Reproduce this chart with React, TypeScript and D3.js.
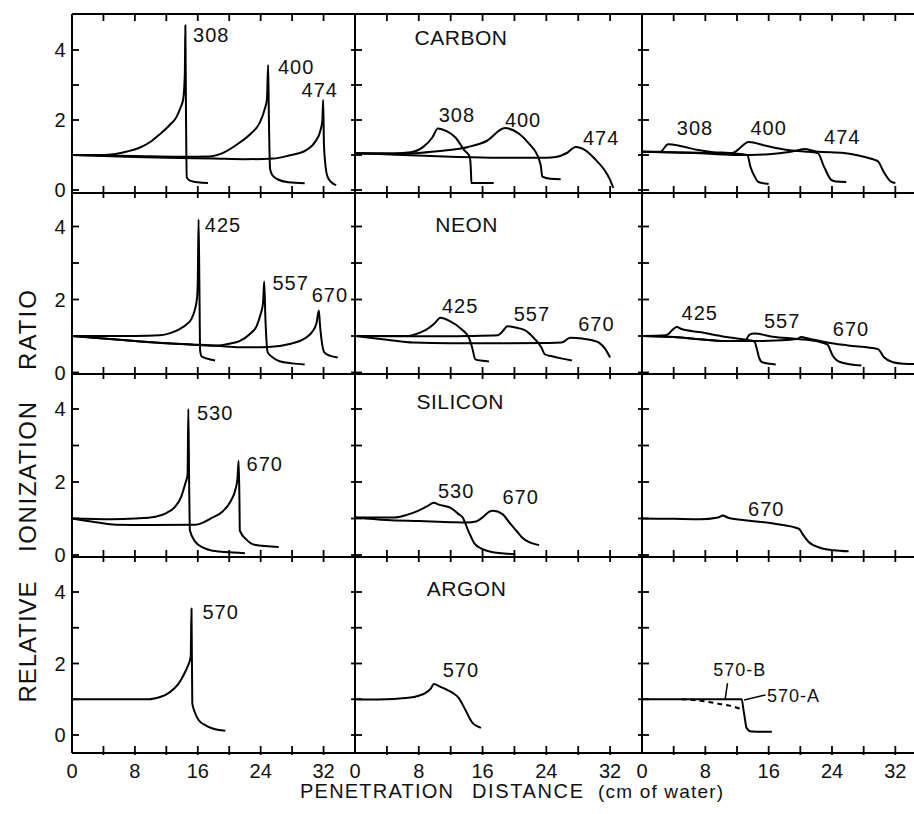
import React from "react";
import * as d3 from "d3";

// ---------- data (x = penetration cm of water, y = relative ionization) ----------
const xTickValues = [0, 4, 8, 12, 16, 20, 24, 28, 32];
const xTickLabels = [0, 8, 16, 24, 32];
const yTickValues = [0, 1, 2, 3, 4];
const yTickLabels = [0, 2, 4];
const elementNames = ["CARBON", "NEON", "SILICON", "ARGON"];

// Carbon – left (unmodulated)
const carbonL308 = [[0,1],[4,1.0],[5.5,1.03],[7,1.1],[8.5,1.2],[10,1.38],[11.2,1.6],[12.4,1.85],[13.3,2.09],[13.8,2.35],[14.15,2.6],[14.35,3.3],[14.42,4.71],[14.5,2.2],[14.6,0.36],[15,0.27],[16,0.22],[17.3,0.2]];
const carbonL400 = [[0,1],[8,0.97],[14,0.95],[17.5,0.96],[19,1.04],[21.3,1.35],[22.7,1.6],[23.9,1.93],[24.5,2.3],[24.8,2.6],[24.95,3.57],[25.05,2.0],[25.2,0.6],[25.5,0.42],[26.2,0.3],[27.5,0.22],[29.6,0.19]];
const carbonL474 = [[0,1],[6,0.96],[12,0.92],[18,0.9],[22,0.88],[25.6,0.9],[27.5,0.98],[29.8,1.14],[31,1.4],[31.6,1.7],[31.85,2.0],[31.95,2.57],[32.05,1.3],[32.2,0.8],[32.5,0.38],[33,0.22],[33.6,0.14]];
// Carbon – middle
const carbonM308 = [[0,1.05],[5,1.05],[7,1.08],[8.6,1.24],[9.7,1.5],[10.4,1.76],[11.5,1.68],[12.6,1.5],[13.7,1.14],[14.4,0.94],[14.55,0.5],[14.6,0.2],[15.5,0.2],[17.4,0.2]];
const carbonM400 = [[0,1.05],[5,1.03],[8,1.06],[11,1.12],[14.2,1.23],[16.5,1.4],[18.8,1.77],[20.5,1.62],[21.8,1.33],[23.1,0.86],[23.3,0.7],[23.5,0.38],[24.5,0.32],[25.8,0.31]];
const carbonM474 = [[0,1.05],[6,1.0],[12,0.95],[18,0.92],[24,0.92],[25.2,0.94],[26.5,1.05],[27.7,1.23],[29,1.12],[30.2,0.86],[31.2,0.6],[32.0,0.29],[32.4,0.06]];
// Carbon – right
const carbonR308 = [[0,1.09],[2.3,1.09],[3.3,1.31],[5,1.25],[7.1,1.14],[9,1.08],[11,1.06],[13.3,1.0],[13.7,0.66],[14.2,0.4],[14.7,0.23],[16.0,0.17]];
const carbonR400 = [[0,1.09],[6,1.07],[9,1.05],[11.4,1.06],[13.5,1.37],[15.5,1.27],[18.4,1.14],[20.5,1.1],[22.2,1.06],[23.0,0.66],[23.9,0.29],[24.5,0.24],[25.8,0.23]];
const carbonR474 = [[0,1.09],[8,1.04],[12,1.0],[16,1.02],[18.8,1.09],[20.5,1.17],[22,1.1],[25.5,1.06],[27.5,0.98],[29.4,0.86],[29.8,0.82],[30.6,0.49],[31.5,0.23],[32,0.2]];

// Neon
const neonL425 = [[0,1.0],[4,1.0],[8,1.0],[11.2,1.02],[12.5,1.08],[13.7,1.19],[14.6,1.32],[15.2,1.47],[15.6,1.7],[15.9,2.03],[16.0,2.5],[16.1,4.19],[16.2,2.5],[16.3,0.6],[16.5,0.44],[17.2,0.38],[18.2,0.33]];
const neonL557 = [[0,1.0],[4,0.93],[8,0.86],[12,0.8],[16.3,0.76],[18.4,0.74],[20,0.79],[21.3,0.86],[22.6,1.05],[23.5,1.28],[24.0,1.6],[24.3,1.9],[24.45,2.49],[24.6,1.5],[24.9,0.55],[25.5,0.42],[26.4,0.31],[28,0.25],[29.6,0.22]];
const neonL670 = [[0,1.0],[4,0.93],[8,0.86],[12,0.8],[16,0.75],[18.4,0.73],[21.3,0.69],[25,0.7],[27.7,0.78],[29.5,0.92],[30.5,1.1],[31.1,1.35],[31.4,1.7],[31.55,1.29],[32.1,0.55],[32.8,0.46],[33.8,0.41]];
const neonM425 = [[0,1.0],[3,1.0],[6.4,1.0],[8,1.08],[9,1.18],[10.0,1.35],[10.7,1.5],[11.9,1.41],[13.4,1.18],[14.3,0.95],[14.7,0.68],[15.1,0.36],[16.0,0.32],[16.8,0.3]];
const neonM557 = [[0,1.0],[5,0.99],[10,0.99],[14,1.0],[17.9,1.02],[18.6,1.15],[19.1,1.27],[20,1.24],[21.3,1.16],[22.5,0.93],[23.4,0.68],[23.8,0.5],[24.6,0.45],[26,0.38],[27.2,0.33]];
const neonM670 = [[0,1.0],[4,0.9],[7.3,0.82],[12,0.8],[18,0.8],[24,0.81],[25.9,0.82],[27.0,0.95],[28.5,0.93],[30.0,0.87],[30.6,0.82],[31.4,0.64],[32.0,0.41]];
const neonR425 = [[0,1.0],[3.0,1.02],[4.4,1.25],[5.0,1.19],[7.5,1.1],[9.9,1.0],[12,0.93],[14.2,0.85],[14.5,0.65],[14.8,0.4],[15.2,0.28],[16.9,0.22]];
const neonR557 = [[0,1.0],[4,0.97],[8,0.9],[11,0.86],[13.0,0.87],[13.6,1.04],[14.2,1.07],[16.5,0.98],[19.6,0.92],[22,0.86],[23.4,0.77],[24.1,0.46],[25.1,0.28],[27.7,0.19]];
const neonR670 = [[0,1.0],[4,0.97],[8,0.9],[11,0.86],[14,0.86],[17,0.88],[19.6,0.92],[20.1,0.97],[21,0.93],[23.4,0.82],[26,0.74],[29.8,0.64],[30.6,0.41],[31.7,0.28],[33,0.24],[34.5,0.23]];

// Silicon
const siliconL530 = [[0,1.0],[5,0.98],[8,1.0],[10.6,1.05],[12,1.15],[13.1,1.32],[13.9,1.6],[14.4,1.95],[14.7,2.2],[14.8,4.0],[14.9,2.0],[15.0,0.67],[15.7,0.36],[16.7,0.2],[17.6,0.13],[19.5,0.08],[22,0.05]];
const siliconL670 = [[0,1.0],[3,0.9],[5.6,0.83],[10,0.82],[15.7,0.83],[17.9,1.03],[19.2,1.2],[20.2,1.48],[20.8,1.8],[21.05,2.1],[21.2,2.58],[21.3,1.5],[21.35,0.67],[22.2,0.42],[23.2,0.28],[26.3,0.22]];
const siliconM530 = [[0,1.03],[4.9,1.03],[6.5,1.1],[7.9,1.21],[9.0,1.33],[9.9,1.43],[10.5,1.38],[12.0,1.29],[13.0,1.12],[13.5,1.03],[14.2,0.67],[15.0,0.31],[16,0.16],[17.0,0.09],[20.1,0.02]];
const siliconM670 = [[0,1.03],[4,0.96],[8,0.93],[12,0.9],[14,0.89],[15.2,0.92],[16.0,1.03],[16.8,1.18],[17.3,1.21],[18.5,1.12],[19.5,0.85],[20.3,0.65],[21.1,0.45],[22,0.34],[23.1,0.27]];
const siliconR670 = [[0,1.0],[4,0.99],[7.3,0.98],[9.6,1.03],[10.2,1.08],[10.9,1.02],[13.6,0.94],[16.6,0.86],[19.8,0.72],[20.4,0.54],[21.0,0.37],[22.5,0.2],[24.2,0.13],[26.1,0.1]];

// Argon
const argonL570 = [[0,1.0],[5,1.0],[9.8,1.0],[11.0,1.05],[11.9,1.12],[13.0,1.3],[13.6,1.45],[14.2,1.68],[14.7,1.91],[15.1,2.19],[15.2,3.54],[15.3,0.89],[15.6,0.65],[16.1,0.42],[17,0.27],[17.8,0.19],[19.5,0.12]];
const argonM570 = [[0,1.0],[3,0.99],[6.7,1.04],[8,1.1],[8.8,1.17],[9.5,1.3],[9.9,1.43],[10.6,1.36],[11.4,1.28],[12.3,1.17],[13.0,1.04],[13.5,0.85],[13.9,0.68],[14.3,0.5],[14.7,0.35],[15.3,0.25],[15.8,0.2]];
const argonR570B = [[0,1.0],[6,1.0],[10,1.0],[12.6,1.0],[12.8,0.73],[13.0,0.45],[13.2,0.2],[13.8,0.1],[16.4,0.09]];
const argonR570A = [[5,1.0],[7.3,0.96],[9.8,0.87],[11.5,0.8],[12.2,0.75],[12.8,0.73]];

const series = [
  { row: 0, col: 0, pts: carbonL308 }, { row: 0, col: 0, pts: carbonL400 }, { row: 0, col: 0, pts: carbonL474 },
  { row: 0, col: 1, pts: carbonM308 }, { row: 0, col: 1, pts: carbonM400 }, { row: 0, col: 1, pts: carbonM474 },
  { row: 0, col: 2, pts: carbonR308 }, { row: 0, col: 2, pts: carbonR400 }, { row: 0, col: 2, pts: carbonR474 },
  { row: 1, col: 0, pts: neonL425 }, { row: 1, col: 0, pts: neonL557 }, { row: 1, col: 0, pts: neonL670 },
  { row: 1, col: 1, pts: neonM425 }, { row: 1, col: 1, pts: neonM557 }, { row: 1, col: 1, pts: neonM670 },
  { row: 1, col: 2, pts: neonR425 }, { row: 1, col: 2, pts: neonR557 }, { row: 1, col: 2, pts: neonR670 },
  { row: 2, col: 0, pts: siliconL530 }, { row: 2, col: 0, pts: siliconL670 },
  { row: 2, col: 1, pts: siliconM530 }, { row: 2, col: 1, pts: siliconM670 },
  { row: 2, col: 2, pts: siliconR670 },
  { row: 3, col: 0, pts: argonL570 }, { row: 3, col: 1, pts: argonM570 },
  { row: 3, col: 2, pts: argonR570B }, { row: 3, col: 2, pts: argonR570A, dashed: true },
];

// curve labels (data coordinates of label start, vertical centre)
const curveLabels = [
  { row: 0, col: 0, x: 15.4, y: 4.43, t: "308" }, { row: 0, col: 0, x: 26.2, y: 3.51, t: "400" }, { row: 0, col: 0, x: 29.2, y: 2.86, t: "474" },
  { row: 0, col: 1, x: 10.5, y: 2.14, t: "308" }, { row: 0, col: 1, x: 18.8, y: 2.0, t: "400" }, { row: 0, col: 1, x: 28.6, y: 1.49, t: "474" },
  { row: 0, col: 2, x: 4.4, y: 1.77, t: "308" }, { row: 0, col: 2, x: 13.7, y: 1.77, t: "400" }, { row: 0, col: 2, x: 23.0, y: 1.51, t: "474" },
  { row: 1, col: 0, x: 16.9, y: 4.03, t: "425" }, { row: 1, col: 0, x: 25.5, y: 2.44, t: "557" }, { row: 1, col: 0, x: 30.5, y: 2.11, t: "670" },
  { row: 1, col: 1, x: 10.9, y: 1.83, t: "425" }, { row: 1, col: 1, x: 19.9, y: 1.61, t: "557" }, { row: 1, col: 1, x: 28.0, y: 1.34, t: "670" },
  { row: 1, col: 2, x: 5.0, y: 1.62, t: "425" }, { row: 1, col: 2, x: 15.4, y: 1.42, t: "557" }, { row: 1, col: 2, x: 24.1, y: 1.2, t: "670" },
  { row: 2, col: 0, x: 15.9, y: 3.88, t: "530" }, { row: 2, col: 0, x: 22.2, y: 2.5, t: "670" },
  { row: 2, col: 1, x: 10.4, y: 1.74, t: "530" }, { row: 2, col: 1, x: 18.5, y: 1.58, t: "670" },
  { row: 2, col: 2, x: 13.4, y: 1.27, t: "670" },
  { row: 3, col: 0, x: 16.6, y: 3.45, t: "570" }, { row: 3, col: 1, x: 11.0, y: 1.83, t: "570" },
  { row: 3, col: 2, x: 9.0, y: 1.83, t: "570-B" }, { row: 3, col: 2, x: 15.8, y: 1.1, t: "570-A" },
];
const leaderLines = [
  { row: 3, col: 2, x1: 10.5, y1: 1.0, x2: 10.8, y2: 1.45 },
  { row: 3, col: 2, x1: 12.9, y1: 0.98, x2: 15.6, y2: 1.12 },
];
const namePos = [
  { x: 13.3, y: 4.37 }, { x: 14.0, y: 4.06 }, { x: 13.2, y: 4.2 }, { x: 14.0, y: 4.09 },
];

// ---------- layout ----------
const W = 914, H = 814;
const colX = [[72, 355], [355, 642], [642, 927]];
const rowTop = [14, 193, 374, 557];
const rowBottom = [193, 374, 557, 753];
const rowZero = [190, 372.5, 555, 735];
const rowUnit = [35, 36.5, 36.5, 35.75];
const FONT = "'Liberation Sans', Arial, sans-serif";

const xScales = colX.map(([a, b]) => d3.scaleLinear().domain([0, 36]).range([a, b]));
const yScales = rowTop.map((top, i) => {
  const lo = (rowZero[i] - rowBottom[i]) / rowUnit[i];
  const hi = (rowZero[i] - top) / rowUnit[i];
  return d3.scaleLinear().domain([lo, hi]).range([rowBottom[i], top]);
});

export default function App() {
  const lineFor = (row: number, col: number) =>
    d3.line<number[]>().x(d => xScales[col](d[0])).y(d => yScales[row](d[1])).curve(d3.curveMonotoneX);

  const frame: any[] = [];
  frame.push(<line key="top" x1={72} x2={W} y1={rowTop[0]} y2={rowTop[0]} stroke="#000" strokeWidth={2} />);
  rowBottom.forEach((yb, r) => frame.push(<line key={"rb" + r} x1={72} x2={W} y1={yb} y2={yb} stroke="#000" strokeWidth={2} />));
  colX.forEach(([a], c) => frame.push(<line key={"cv" + c} x1={a} x2={a} y1={rowTop[0]} y2={rowBottom[3]} stroke="#000" strokeWidth={2} />));
  colX.forEach((_, c) => {
    xTickValues.forEach(v => {
      if (v === 0) return;
      const x = xScales[c](v);
      frame.push(<line key={`tt${c}-${v}`} x1={x} x2={x} y1={rowTop[0]} y2={rowTop[0] + 7} stroke="#000" strokeWidth={1.8} />);
      rowBottom.forEach((yb, r) => {
        const down = r === 3 ? 2 : 5;
        frame.push(<line key={`bt${c}-${v}-${r}`} x1={x} x2={x} y1={yb - 7} y2={yb + down} stroke="#000" strokeWidth={1.8} />);
      });
    });
  });
  rowTop.forEach((_, r) => {
    colX.forEach(([a], c) => {
      yTickValues.forEach(v => {
        const y = yScales[r](v);
        const x1 = c === 0 ? a : a - 4;
        frame.push(<line key={`yt${r}-${c}-${v}`} x1={x1} x2={a + 7} y1={y} y2={y} stroke="#000" strokeWidth={1.8} />);
      });
    });
  });

  return (
    <svg width={W} height={H} style={{ position: "absolute", left: 0, top: 0, background: "#fff" }} fontFamily={FONT}>
      <rect x={0} y={0} width={W} height={H} fill="#fff" />
      {frame}
      {series.map((s, i) => (
        <path key={"s" + i} d={lineFor(s.row, s.col)(s.pts) || ""} fill="none" stroke="#000"
          strokeWidth={2} strokeDasharray={s.dashed ? "5,4" : undefined} strokeLinejoin="round" />
      ))}
      {leaderLines.map((l, i) => (
        <line key={"ld" + i} x1={xScales[l.col](l.x1)} y1={yScales[l.row](l.y1)} x2={xScales[l.col](l.x2)} y2={yScales[l.row](l.y2)}
          stroke="#000" strokeWidth={1.5} />
      ))}
      {curveLabels.map((l, i) => (
        <text key={"cl" + i} x={xScales[l.col](l.x)} y={yScales[l.row](l.y)} dominantBaseline="central"
          fontSize={l.t.length > 3 ? 18 : 20} letterSpacing={1} fill="#111">{l.t}</text>
      ))}
      {elementNames.map((n, r) => (
        <text key={"en" + r} x={xScales[1](namePos[r].x)} y={yScales[r](namePos[r].y)} dominantBaseline="central"
          textAnchor="middle" fontSize={21} letterSpacing={0.5} fill="#111">{n}</text>
      ))}
      {rowTop.map((_, r) => yTickLabels.map(v => (
        <text key={`yl${r}-${v}`} x={60} y={yScales[r](v)} dominantBaseline="central" textAnchor="middle" fontSize={20} fill="#111">{v}</text>
      )))}
      {colX.map((_, c) => xTickLabels.map(v => (
        <text key={`xl${c}-${v}`} x={xScales[c](v)} y={771} dominantBaseline="central" textAnchor="middle" fontSize={20} fill="#111">{v}</text>
      )))}
      <text x={300} y={791} dominantBaseline="central" fontSize={20} textLength={153} fill="#111">PENETRATION</text>
      <text x={472} y={791} dominantBaseline="central" fontSize={20} textLength={111} fill="#111">DISTANCE</text>
      <text x={598} y={791} dominantBaseline="central" fontSize={19} textLength={125} fill="#111">(cm of water)</text>
      <text transform="translate(27,642) rotate(-90)" textAnchor="middle" dominantBaseline="central" fontSize={24} textLength={121} fill="#111">RELATIVE</text>
      <text transform="translate(27,477) rotate(-90)" textAnchor="middle" dominantBaseline="central" fontSize={24} textLength={150} fill="#111">IONIZATION</text>
      <text transform="translate(27,330) rotate(-90)" textAnchor="middle" dominantBaseline="central" fontSize={24} textLength={80} fill="#111">RATIO</text>
    </svg>
  );
}
